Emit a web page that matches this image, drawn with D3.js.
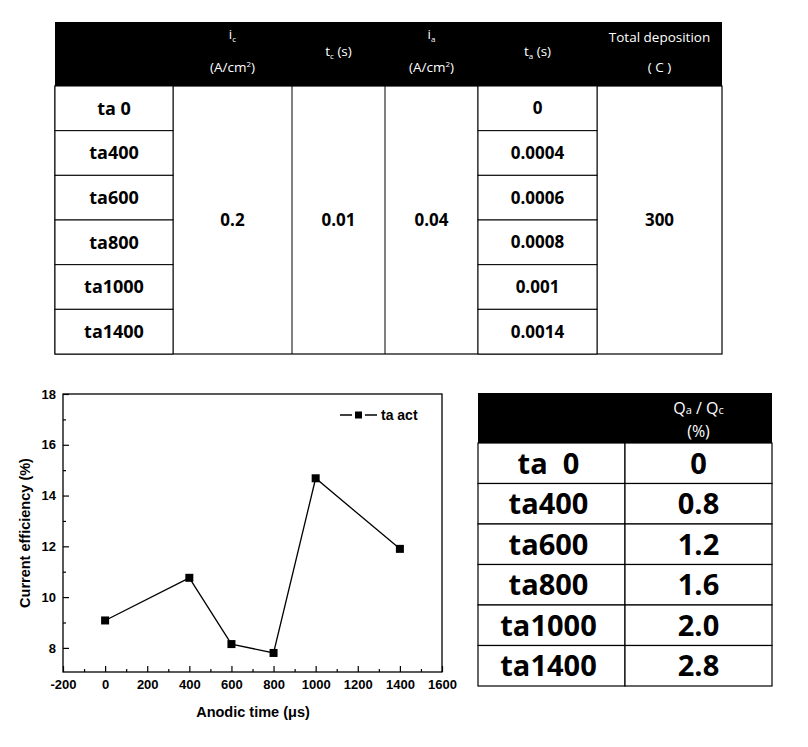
<!DOCTYPE html>
<html><head><meta charset="utf-8">
<script src="https://cdn.jsdelivr.net/npm/d3@7"></script>
<style>body{margin:0;background:#fff}svg{display:block}</style>
</head><body>
<script>
// ---- data ----
const sampleNames = ["ta 0","ta400","ta600","ta800","ta1000","ta1400"];
const cathodicCurrent = "0.2";       // i_c (A/cm²)
const cathodicTime = "0.01";         // t_c (s)
const anodicCurrent = "0.04";        // i_a (A/cm²)
const anodicTimesS = ["0","0.0004","0.0006","0.0008","0.001","0.0014"]; // t_a (s)
const totalDeposition = "300";       // (C)
const anodicTimeUs = [0,400,600,800,1000,1400];
const currentEfficiency = [9.08,10.76,8.15,7.8,14.68,11.9];
const qaQc = ["0","0.8","1.2","1.6","2.0","2.8"];
const xTicks = [-200,0,200,400,600,800,1000,1200,1400,1600];
const yTicks = [8,10,12,14,16,18];
const seriesName = "ta act";

const W=808,H=747;
const svg=d3.select("body").append("svg").attr("width",W).attr("height",H);
const tableFont="'Open Sans','Noto Sans',sans-serif";
const chartFont="'Liberation Sans',Arial,sans-serif";

// ---- top table ----
const colX=[55,173,292,385,478,597,722];
const hTop=22,hBot=86,tBot=354;
const rowY=d3.scaleBand().domain(sampleNames).range([hBot,tBot]);
const T=svg.append("g");
T.append("rect").attr("x",colX[0]).attr("y",hTop).attr("width",colX[6]-colX[0]).attr("height",hBot-hTop).attr("fill","#000");
T.append("rect").attr("x",colX[0]).attr("y",hBot).attr("width",colX[6]-colX[0]).attr("height",tBot-hBot).attr("fill","#fff").attr("stroke","#000").attr("stroke-width",1.2);
[1,2,3,4,5].forEach(i=>T.append("line").attr("x1",colX[i]).attr("x2",colX[i]).attr("y1",hBot).attr("y2",tBot).attr("stroke","#000").attr("stroke-width",1));
[0,4].forEach(c=>{
  sampleNames.forEach(n=>{
    T.append("rect").attr("x",colX[c]).attr("y",rowY(n)).attr("width",colX[c+1]-colX[c]).attr("height",rowY.bandwidth())
     .attr("fill","#fff").attr("stroke","#000").attr("stroke-width",1);
  });
});
const cx=i=>(colX[i]+colX[i+1])/2;
sampleNames.forEach((n,i)=>{
  T.append("text").attr("x",cx(0)).attr("y",rowY(n)+rowY.bandwidth()/2).attr("dy","0.36em").attr("text-anchor","middle")
   .attr("font-family",tableFont).attr("font-weight",700).attr("font-size",18).text(n.replace(" ","\u00a0"));
  T.append("text").attr("x",cx(4)).attr("y",rowY(n)+rowY.bandwidth()/2).attr("dy","0.36em").attr("text-anchor","middle")
   .attr("font-family",tableFont).attr("font-weight",700).attr("font-size",17).text(anodicTimesS[i]);
});
const midY=(hBot+tBot)/2;
[[1,cathodicCurrent],[2,cathodicTime],[3,anodicCurrent],[5,totalDeposition]].forEach(([c,v])=>{
  T.append("text").attr("x",cx(c)).attr("y",midY).attr("dy","0.36em").attr("text-anchor","middle")
   .attr("font-family",tableFont).attr("font-weight",700).attr("font-size",17).text(v);
});
function hdr(x,y,parts){
  const t=T.append("text").attr("x",x).attr("y",y).attr("text-anchor","middle").attr("fill","#fff")
    .attr("font-family",tableFont).attr("font-size",13.5);
  parts.forEach(p=>{
    const s=t.append("tspan").text(p.t);
    if(p.sub){s.attr("font-size",8).attr("dy",3);}
    if(p.sup){s.attr("font-size",8).attr("dy",-5);}
    if(p.reset){s.attr("dy",p.reset);}
  });
}
hdr(cx(1),39,[{t:"i"},{t:"c",sub:true}]);
hdr(cx(1),72,[{t:"(A/cm"},{t:"2",sup:true},{t:")",reset:5}]);
hdr(cx(2),56,[{t:"t"},{t:"c",sub:true},{t:" (s)",reset:-3}]);
hdr(cx(3),39,[{t:"i"},{t:"a",sub:true}]);
hdr(cx(3),72,[{t:"(A/cm"},{t:"2",sup:true},{t:")",reset:5}]);
hdr(cx(4),56,[{t:"t"},{t:"a",sub:true},{t:" (s)",reset:-3}]);
hdr(cx(5),42,[{t:"Total deposition"}]);
hdr(cx(5),72,[{t:"( C )"}]);

// ---- chart ----
const x=d3.scaleLinear().domain([-200,1600]).range([63,442]);
const y=d3.scaleLinear().domain([7.05,18]).range([672,394]);
const C=svg.append("g");
C.append("rect").attr("x",63).attr("y",394).attr("width",442-63).attr("height",672-394).attr("fill","none").attr("stroke","#000").attr("stroke-width",1.3);
const xa=d3.axisBottom(x).tickValues(xTicks).tickSize(-6).tickPadding(8).tickFormat(d=>String(d));
const gx=C.append("g").attr("transform","translate(0,672)").call(xa);
const xMinor=d3.range(-100,1600,200);
C.append("g").attr("transform","translate(0,672)").call(d3.axisBottom(x).tickValues(xMinor).tickSize(-3).tickFormat("")).call(g=>g.select(".domain").remove());
const ya=d3.axisLeft(y).tickValues(yTicks).tickSize(-6).tickPadding(7);
const gy=C.append("g").attr("transform","translate(63,0)").call(ya);
C.append("g").attr("transform","translate(63,0)").call(d3.axisLeft(y).tickValues([9,11,13,15,17]).tickSize(-3).tickFormat("")).call(g=>g.select(".domain").remove());
[gx,gy].forEach(g=>{g.select(".domain").remove();g.selectAll("text").attr("font-family",chartFont).attr("font-weight",700).attr("font-size",13).attr("fill","#000");});
C.selectAll(".tick line").attr("stroke","#000").attr("stroke-width",1.2);
const pts=anodicTimeUs.map((t,i)=>[t,currentEfficiency[i]]);
C.append("path").datum(pts).attr("fill","none").attr("stroke","#000").attr("stroke-width",1.3)
 .attr("d",d3.line().x(d=>x(d[0])).y(d=>y(d[1])));
C.selectAll("rect.pt").data(pts).join("rect").attr("class","pt")
 .attr("x",d=>x(d[0])-4).attr("y",d=>y(d[1])-4).attr("width",8).attr("height",8).attr("fill","#000");
// legend
C.append("line").attr("x1",340).attr("x2",377).attr("y1",415).attr("y2",415).attr("stroke","#000").attr("stroke-width",1.3);
C.append("rect").attr("x",352).attr("y",410).attr("width",13).attr("height",10).attr("fill","#fff");
C.append("rect").attr("x",355).attr("y",411.5).attr("width",7).attr("height",7).attr("fill","#000");
C.append("text").attr("x",381).attr("y",420).attr("font-family",chartFont).attr("font-weight",700).attr("font-size",14).text(seriesName);
C.append("text").attr("x",253).attr("y",717).attr("text-anchor","middle").attr("font-family",chartFont).attr("font-weight",700).attr("font-size",14.5).text("Anodic time (\u03bcs)");
C.append("text").attr("transform","translate(30,533) rotate(-90)").attr("text-anchor","middle").attr("font-family",chartFont).attr("font-weight",700).attr("font-size",14.5).text("Current efficiency (%)");

// ---- right table ----
const rx=[478,625,772];
const rTop=393,rHBot=443,rBot=686;
const rRow=d3.scaleBand().domain(sampleNames).range([rHBot,rBot]);
const R=svg.append("g");
R.append("rect").attr("x",rx[0]).attr("y",rTop).attr("width",rx[2]-rx[0]).attr("height",rHBot-rTop).attr("fill","#000");
sampleNames.forEach((n,i)=>{
  [0,1].forEach(c=>R.append("rect").attr("x",rx[c]).attr("y",rRow(n)).attr("width",rx[c+1]-rx[c]).attr("height",rRow.bandwidth())
     .attr("fill","#fff").attr("stroke","#000").attr("stroke-width",1.2));
  R.append("text").attr("x",(rx[0]+rx[1])/2-3).attr("y",rRow(n)+rRow.bandwidth()/2).attr("dy","0.36em").attr("text-anchor","middle")
   .attr("font-family",tableFont).attr("font-weight",700).attr("font-size",29).text(n.replace(" ","\u00a0\u00a0"));
  R.append("text").attr("x",(rx[1]+rx[2])/2).attr("y",rRow(n)+rRow.bandwidth()/2).attr("dy","0.36em").attr("text-anchor","middle")
   .attr("font-family",tableFont).attr("font-weight",700).attr("font-size",29).text(qaQc[i]);
});
const qh=R.append("text").attr("x",(rx[1]+rx[2])/2).attr("y",414).attr("text-anchor","middle").attr("fill","#fff").attr("font-family",tableFont).attr("font-size",16);
qh.append("tspan").text("Q");qh.append("tspan").attr("font-size",11).text("a");qh.append("tspan").text(" / Q");qh.append("tspan").attr("font-size",11).text("c");
R.append("text").attr("x",(rx[1]+rx[2])/2).attr("y",437).attr("text-anchor","middle").attr("fill","#fff").attr("font-family",tableFont).attr("font-size",16).text("(%)");
</script>
</body></html>
